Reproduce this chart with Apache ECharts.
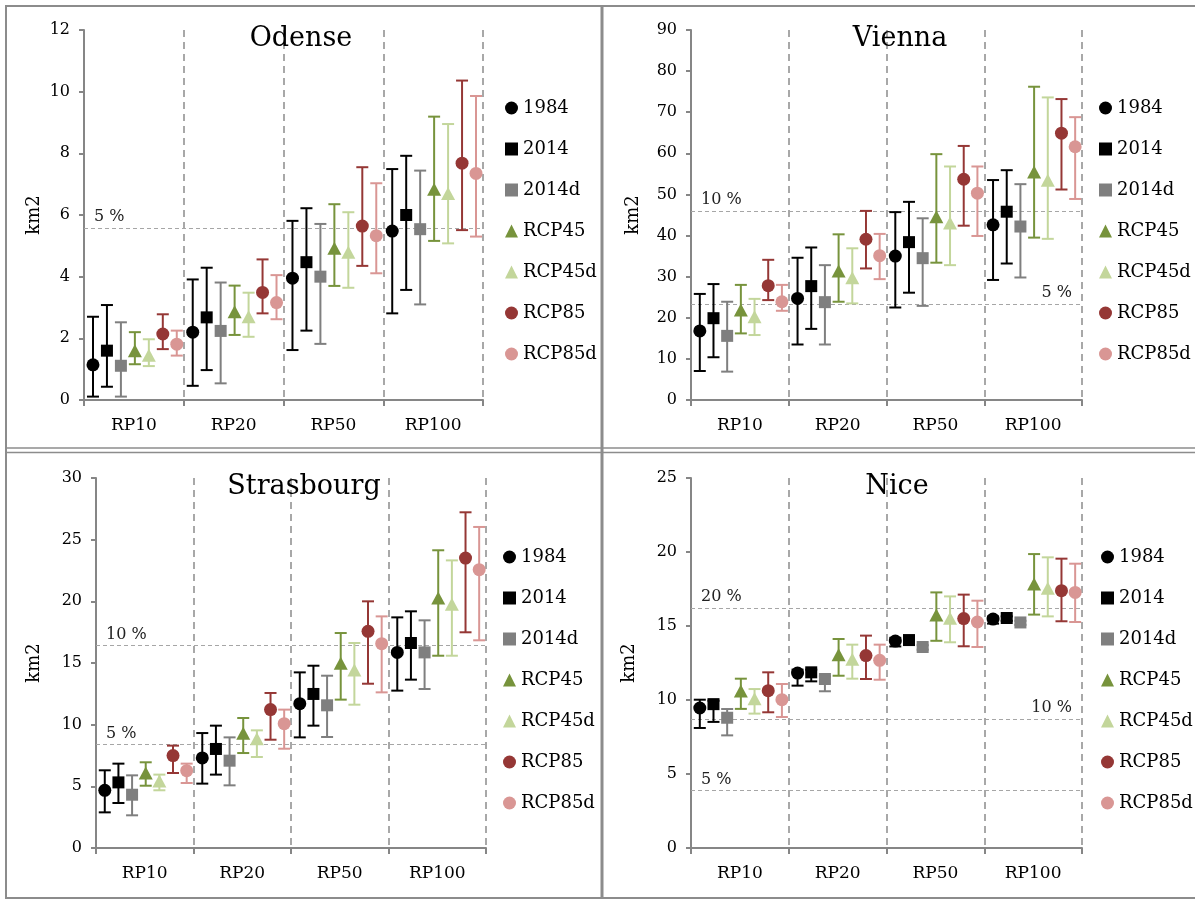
<!DOCTYPE html>
<html>
<head>
<meta charset="utf-8">
<script src="https://cdn.jsdelivr.net/npm/echarts@6/dist/echarts.min.js"></script>
<style>
html,body{margin:0;padding:0;background:#fff;}
#chart{width:1195px;height:900px;}
</style>
</head>
<body>
<div id="chart"></div>
<script>
const categories = ['RP10', 'RP20', 'RP50', 'RP100'];
const seriesNames = ['1984', '2014', '2014d', 'RCP45', 'RCP45d', 'RCP85', 'RCP85d'];
const cityNames = ['Odense', 'Vienna', 'Strasbourg', 'Nice'];

// rows = series (seriesNames order), columns = categories
const odenseMid = [
  [1.14, 2.20, 3.95, 5.48],
  [1.60, 2.68, 4.47, 6.00],
  [1.11, 2.24, 4.00, 5.54],
  [1.55, 2.81, 4.87, 6.79],
  [1.40, 2.65, 4.74, 6.65],
  [2.14, 3.49, 5.64, 7.68],
  [1.81, 3.16, 5.33, 7.35]
];
const odenseLow = [
  [0.11, 0.46, 1.62, 2.81],
  [0.43, 0.97, 2.25, 3.57],
  [0.11, 0.54, 1.82, 3.10],
  [1.16, 2.11, 3.70, 5.16],
  [1.10, 2.05, 3.64, 5.08],
  [1.65, 2.81, 4.35, 5.51],
  [1.44, 2.62, 4.11, 5.30]
];
const odenseHigh = [
  [2.70, 3.91, 5.81, 7.49],
  [3.08, 4.29, 6.22, 7.92],
  [2.52, 3.81, 5.71, 7.44],
  [2.20, 3.71, 6.35, 9.19],
  [1.97, 3.48, 6.09, 8.95],
  [2.78, 4.56, 7.55, 10.36],
  [2.25, 4.05, 7.03, 9.86]
];

const viennaMid = [
  [16.8, 24.7, 35.0, 42.6],
  [19.9, 27.7, 38.4, 45.8],
  [15.6, 23.8, 34.5, 42.2],
  [21.5, 31.0, 44.2, 55.1],
  [19.9, 29.4, 42.7, 53.1],
  [27.8, 39.1, 53.7, 64.9],
  [23.9, 35.1, 50.3, 61.6]
];
const viennaLow = [
  [7.05, 13.5, 22.5, 29.2],
  [10.4, 17.3, 26.1, 33.2],
  [6.9, 13.5, 22.9, 29.8],
  [16.2, 23.9, 33.4, 39.5],
  [15.8, 23.5, 32.8, 39.2],
  [24.3, 32.0, 42.4, 51.2],
  [21.7, 29.4, 39.9, 48.9]
];
const viennaHigh = [
  [25.8, 34.6, 45.7, 53.5],
  [28.2, 37.1, 48.2, 55.9],
  [23.9, 32.8, 44.2, 52.5],
  [28.0, 40.3, 59.8, 76.2],
  [24.6, 36.9, 56.8, 73.6],
  [34.1, 46.0, 61.8, 73.2],
  [28.0, 40.4, 56.8, 68.8]
];

const strasbourgMid = [
  [4.68, 7.30, 11.70, 15.86],
  [5.32, 8.03, 12.49, 16.62],
  [4.32, 7.08, 11.57, 15.86],
  [5.95, 9.19, 14.86, 20.14],
  [5.32, 8.73, 14.32, 19.65],
  [7.49, 11.22, 17.57, 23.51],
  [6.27, 10.08, 16.57, 22.57]
];
const strasbourgLow = [
  [2.89, 5.22, 8.97, 12.76],
  [3.65, 5.95, 9.92, 13.65],
  [2.65, 5.08, 9.00, 12.89],
  [5.05, 7.70, 12.03, 15.59],
  [4.68, 7.38, 11.62, 15.59],
  [6.08, 8.78, 13.32, 17.49],
  [5.27, 8.05, 12.62, 16.84]
];
const strasbourgHigh = [
  [6.30, 9.32, 14.24, 18.70],
  [6.84, 9.92, 14.78, 19.19],
  [5.89, 8.97, 13.97, 18.46],
  [6.95, 10.54, 17.43, 24.14],
  [5.95, 9.54, 16.62, 23.32],
  [8.30, 12.57, 20.00, 27.22],
  [6.84, 11.22, 18.78, 26.03]
];

const niceMid = [
  [9.46, 11.82, 13.98, 15.47],
  [9.72, 11.87, 14.05, 15.54],
  [8.80, 11.42, 13.58, 15.24],
  [10.50, 12.95, 15.65, 17.73],
  [9.98, 12.66, 15.43, 17.45],
  [10.63, 13.00, 15.50, 17.39],
  [10.02, 12.68, 15.27, 17.27]
];
const niceLow = [
  [8.11, 10.97, 13.62, 15.16],
  [8.52, 11.26, 13.90, 15.35],
  [7.61, 10.59, 13.40, 15.08],
  [9.40, 11.64, 14.00, 15.77],
  [9.08, 11.44, 13.90, 15.65],
  [9.17, 11.42, 13.63, 15.32],
  [8.85, 11.37, 13.58, 15.27]
];
const niceHigh = [
  [10.02, 12.05, 14.20, 15.65],
  [9.95, 12.05, 14.20, 15.65],
  [9.39, 11.60, 13.70, 15.35],
  [11.44, 14.12, 17.27, 19.86],
  [10.74, 13.74, 17.00, 19.64],
  [11.87, 14.35, 17.12, 19.55],
  [11.08, 13.74, 16.71, 19.21]
];

// threshold lines (value, label)
const odenseThresholds = [5.57];
const odenseThresholdLabels = ['5 %'];
const viennaThresholds = [46.0, 23.3];
const viennaThresholdLabels = ['10 %', '5 %'];
const strasbourgThresholds = [16.41, 8.38];
const strasbourgThresholdLabels = ['10 %', '5 %'];
const niceThresholds = [16.22, 8.72, 3.87];
const niceThresholdLabels = ['20 %', '10 %', '5 %'];

// y axis scales
const yMax = [12, 90, 30, 25];
const yInterval = [2, 10, 5, 5];

// ---------- styling / layout ----------
const FONT = 'DejaVu Serif';
const colors = ['#000000', '#000000', '#7f7f7f', '#77933c', '#c3d69b', '#953735', '#d99694'];
const shapes = ['circle', 'rect', 'rect', 'triangle', 'triangle', 'circle', 'circle'];
const grids = [
  {left: 84, top: 30, width: 399, height: 370},
  {left: 691, top: 30, width: 391, height: 370},
  {left: 96, top: 478, width: 390, height: 370},
  {left: 691, top: 478, width: 391, height: 370}
];
const titlePos = [[301, 25], [900, 25], [304, 473], [897, 473]];
const legendPos = [[505, 99], [1099, 99], [503, 548], [1101, 548]];
const nameGaps = [41, 49, 53, 53];
const thresholdSide = [
  ['start'],
  ['start', 'end'],
  ['start', 'start'],
  ['start', 'end', 'start']
];

const mids = [odenseMid, viennaMid, strasbourgMid, niceMid];
const lows = [odenseLow, viennaLow, strasbourgLow, niceLow];
const highs = [odenseHigh, viennaHigh, strasbourgHigh, niceHigh];
const thresholds = [odenseThresholds, viennaThresholds, strasbourgThresholds, niceThresholds];
const thresholdLabels = [odenseThresholdLabels, viennaThresholdLabels, strasbourgThresholdLabels, niceThresholdLabels];

function makeRender(si) {
  return function (params, api) {
    const ci = api.value(0);
    const band = api.size([1, 0])[0];
    const dx = (si - 3) * band * 0.14 + band * 0.01;
    const pm = api.coord([ci, api.value(1)]);
    const pl = api.coord([ci, api.value(2)]);
    const ph = api.coord([ci, api.value(3)]);
    const x = pm[0] + dx;
    const color = colors[si];
    const cap = 6;
    const lw = 2;
    const children = [
      {type: 'line', shape: {x1: x, y1: pl[1], x2: x, y2: ph[1]}, style: {stroke: color, lineWidth: lw}},
      {type: 'line', shape: {x1: x - cap, y1: pl[1], x2: x + cap, y2: pl[1]}, style: {stroke: color, lineWidth: lw}},
      {type: 'line', shape: {x1: x - cap, y1: ph[1], x2: x + cap, y2: ph[1]}, style: {stroke: color, lineWidth: lw}}
    ];
    const y = pm[1];
    if (shapes[si] === 'circle') {
      children.push({type: 'circle', shape: {cx: x, cy: y, r: 6.5}, style: {fill: color}});
    } else if (shapes[si] === 'rect') {
      children.push({type: 'rect', shape: {x: x - 6, y: y - 6, width: 12, height: 12}, style: {fill: color}});
    } else {
      children.push({type: 'polygon', shape: {points: [[x, y - 8], [x + 7, y + 5], [x - 7, y + 5]]}, style: {fill: color}});
    }
    return {type: 'group', children: children};
  };
}

const option = {
  animation: false,
  backgroundColor: '#ffffff',
  textStyle: {fontFamily: FONT},
  title: cityNames.map((c, i) => ({
    text: c, left: titlePos[i][0], top: titlePos[i][1], textAlign: 'center', padding: 0,
    textStyle: {fontFamily: FONT, fontSize: 27, fontWeight: 'normal', color: '#000'}
  })),
  legend: grids.map((g, i) => ({
    orient: 'vertical', left: legendPos[i][0], top: legendPos[i][1], padding: 0,
    itemWidth: 13, itemHeight: 13, itemGap: 23,
    textStyle: {fontFamily: FONT, fontSize: 18, color: '#000', lineHeight: 18},
    data: seriesNames.map((n, si) => ({name: n, icon: shapes[si]}))
  })),
  grid: grids,
  xAxis: grids.map((g, i) => ({
    type: 'category', gridIndex: i, data: categories, boundaryGap: true,
    axisLine: {lineStyle: {color: '#868686', width: 2}},
    axisTick: {show: true, length: 6, interval: 0, lineStyle: {color: '#868686', width: 2}},
    axisLabel: {fontFamily: FONT, fontSize: 17, color: '#000', margin: 17, interval: 0},
    splitLine: {show: true, interval: 0, lineStyle: {color: '#8c8c8c', width: 1.5, type: [7, 5]}}
  })),
  yAxis: grids.map((g, i) => ({
    type: 'value', gridIndex: i, min: 0, max: yMax[i], interval: yInterval[i],
    name: 'km2', nameLocation: 'middle', nameGap: nameGaps[i],
    nameTextStyle: {fontFamily: FONT, fontSize: 18, color: '#000'},
    axisLine: {show: true, lineStyle: {color: '#868686', width: 2}},
    axisTick: {show: true, length: 5, lineStyle: {color: '#868686', width: 2}},
    axisLabel: {fontFamily: FONT, fontSize: 16, color: '#000', margin: 14},
    splitLine: {show: false}
  })),
  graphic: [
    {type: 'rect', shape: {x: 6, y: 6, width: 1195, height: 892}, style: {fill: 'none', stroke: '#8c8c8c', lineWidth: 2}, silent: true},
    {type: 'line', shape: {x1: 602, y1: 6, x2: 602, y2: 898}, style: {stroke: '#8c8c8c', lineWidth: 3}, silent: true},
    {type: 'line', shape: {x1: 6, y1: 448, x2: 1195, y2: 448}, style: {stroke: '#8c8c8c', lineWidth: 1.5}, silent: true},
    {type: 'line', shape: {x1: 6, y1: 452.5, x2: 1195, y2: 452.5}, style: {stroke: '#8c8c8c', lineWidth: 1.5}, silent: true}
  ],
  series: []
};

grids.forEach((g, gi) => {
  seriesNames.forEach((name, si) => {
    const s = {
      type: 'custom', name: name, xAxisIndex: gi, yAxisIndex: gi,
      itemStyle: {color: colors[si]},
      renderItem: makeRender(si),
      encode: {x: 0, y: [1, 2, 3]},
      data: categories.map((c, ci) => [ci, mids[gi][si][ci], lows[gi][si][ci], highs[gi][si][ci]]),
      z: 10
    };
    if (si === 0) {
      s.markLine = {
        silent: true, symbol: 'none', animation: false,
        lineStyle: {type: [4, 3], color: '#a6a6a6', width: 1},
        data: thresholds[gi].map((v, k) => ({
          yAxis: v,
          label: {
            show: true, formatter: thresholdLabels[gi][k],
            position: thresholdSide[gi][k] === 'start' ? 'insideStartTop' : 'insideEndTop',
            distance: [10, 3],
            fontFamily: FONT, fontSize: 16, color: '#222'
          }
        }))
      };
    }
    option.series.push(s);
  });
});

const chart = echarts.init(document.getElementById('chart'), null, {renderer: 'canvas'});
chart.setOption(option);
</script>
</body>
</html>
